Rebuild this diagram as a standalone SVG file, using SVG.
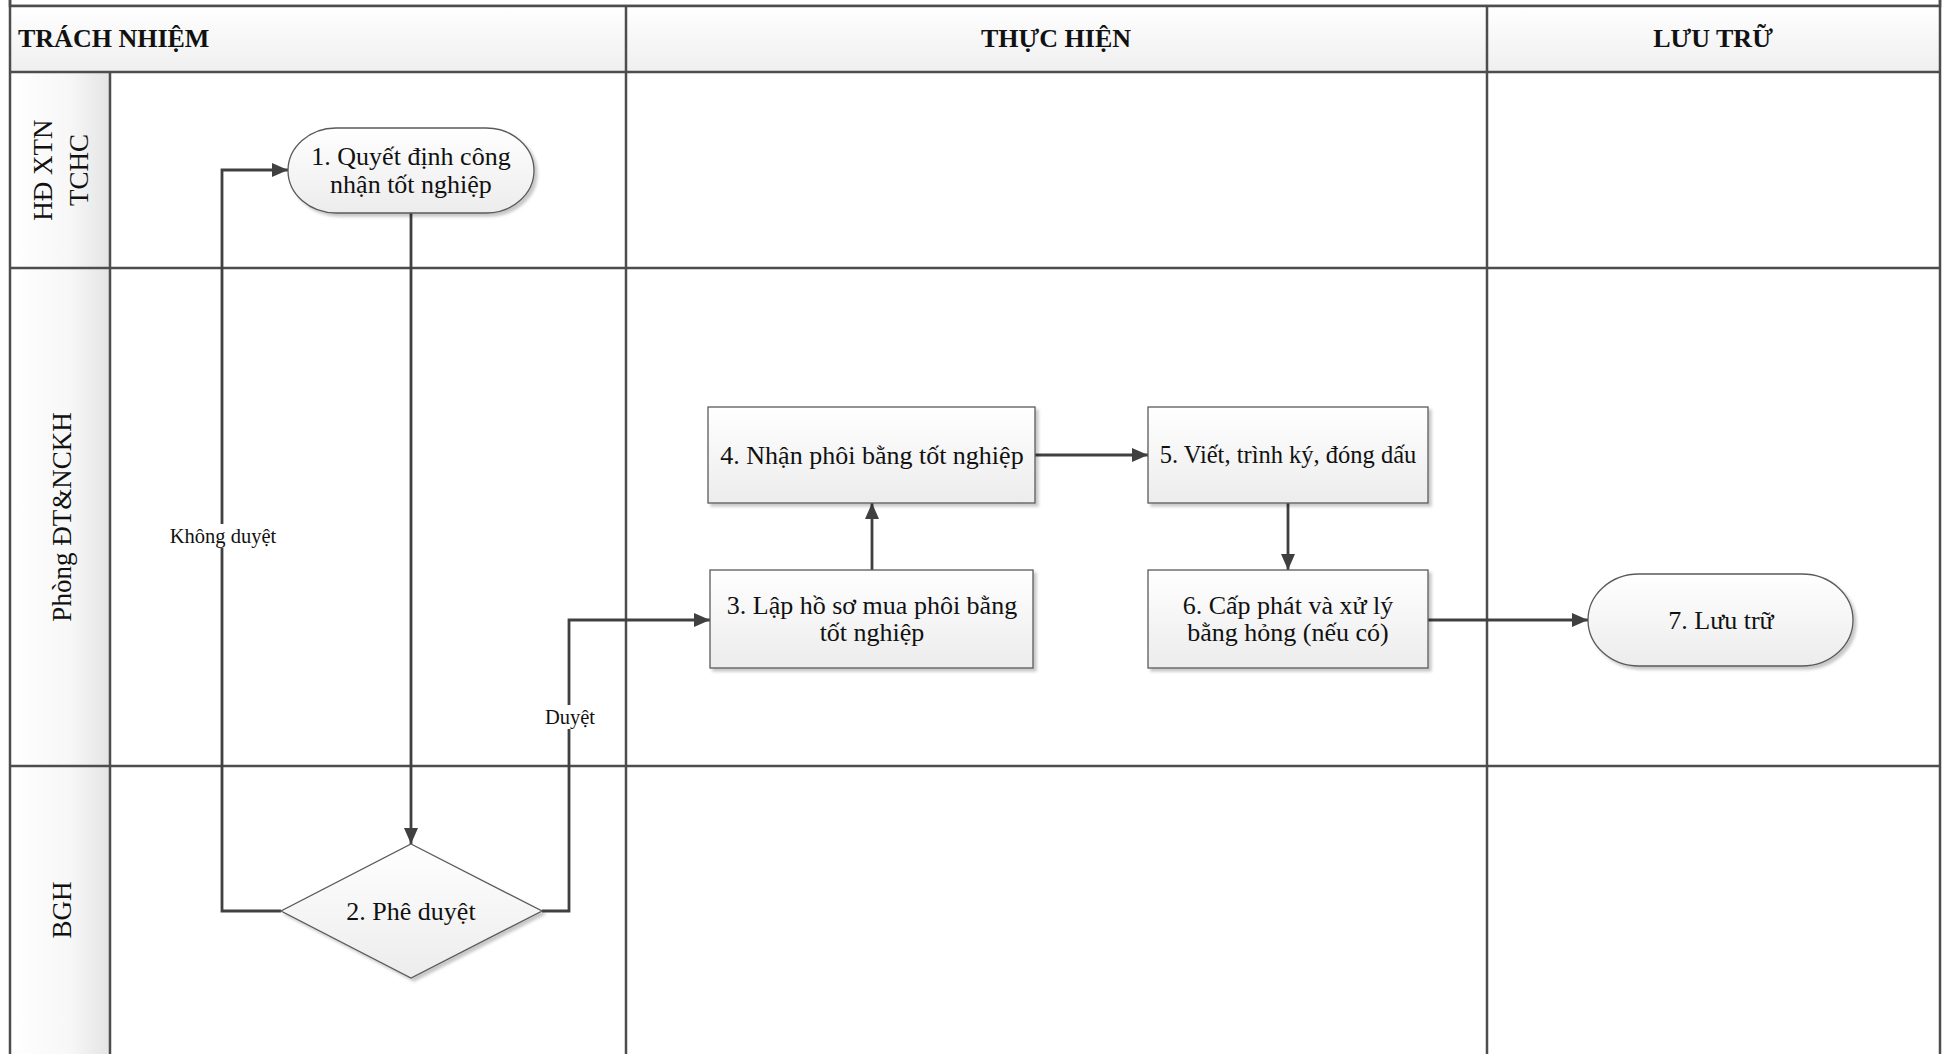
<svg xmlns="http://www.w3.org/2000/svg" width="1944" height="1054" viewBox="0 0 1944 1054">
<defs>
<linearGradient id="gNode" x1="0" y1="0" x2="0" y2="1"><stop offset="0" stop-color="#ffffff"/><stop offset="1" stop-color="#ececec"/></linearGradient>
<linearGradient id="gHead" x1="0" y1="0" x2="0" y2="1"><stop offset="0" stop-color="#ffffff"/><stop offset="1" stop-color="#efefef"/></linearGradient>
<linearGradient id="gLane" x1="0" y1="0" x2="1" y2="0"><stop offset="0" stop-color="#ffffff"/><stop offset="0.6" stop-color="#f7f7f7"/><stop offset="1" stop-color="#e4e4e4"/></linearGradient>
<filter id="sh" x="-10%" y="-10%" width="130%" height="130%"><feDropShadow dx="3" dy="3" stdDeviation="1.5" flood-color="#000" flood-opacity="0.22"/></filter>
<marker id="arr" viewBox="0 0 16 14" refX="16" refY="7" markerWidth="16" markerHeight="14" markerUnits="userSpaceOnUse" orient="auto"><path d="M0,0 L16,7 L0,14 Z" fill="#404040"/></marker>
</defs>
<style>
.grid{stroke:#4d4d4d;stroke-width:2.5;fill:none}
.node{fill:url(#gNode);stroke:#5a5a5a;stroke-width:1.3;filter:url(#sh)}
.t{font-family:"Liberation Serif","Times New Roman",serif;font-size:26px;fill:#111;text-anchor:middle}
.h{font-family:"Liberation Serif","Times New Roman",serif;font-size:26px;font-weight:bold;fill:#111}
.lane{font-family:"Liberation Serif","Times New Roman",serif;font-size:27px;fill:#111;text-anchor:middle}
.lbl{font-family:"Liberation Serif","Times New Roman",serif;font-size:20.5px;fill:#111;text-anchor:middle}
.c{stroke:#404040;stroke-width:2.8;fill:none}
</style>
<rect x="0" y="0" width="1944" height="1054" fill="#ffffff"/>
<g id="frame">
<rect x="10" y="-10" width="1930" height="16" fill="#f0f0f0" class="grid"/>
<rect x="10" y="6" width="1930" height="66" fill="url(#gHead)"/>
<rect x="10" y="72" width="100" height="990" fill="url(#gLane)"/>
<line class="grid" x1="10" y1="6" x2="1940" y2="6"/>
<line class="grid" x1="10" y1="72" x2="1940" y2="72"/>
<line class="grid" x1="10" y1="268" x2="1940" y2="268"/>
<line class="grid" x1="10" y1="766" x2="1940" y2="766"/>
<line class="grid" x1="10" y1="-10" x2="10" y2="1060"/>
<line class="grid" x1="110" y1="72" x2="110" y2="1060"/>
<line class="grid" x1="626" y1="6" x2="626" y2="1060"/>
<line class="grid" x1="1487" y1="6" x2="1487" y2="1060"/>
<line class="grid" x1="1940" y1="-10" x2="1940" y2="1060"/>
<text class="h" x="18" y="47">TRÁCH NHIỆM</text>
<text class="h" x="1056" y="47" text-anchor="middle">THỰC HIỆN</text>
<text class="h" x="1713" y="47" text-anchor="middle">LƯU TRỮ</text>
<text class="lane" transform="translate(52,170) rotate(-90)">HĐ XTN</text>
<text class="lane" transform="translate(88,170) rotate(-90)">TCHC</text>
<text class="lane" transform="translate(71,517) rotate(-90)">Phòng ĐT&amp;NCKH</text>
<text class="lane" transform="translate(71,910) rotate(-90)">BGH</text>
</g>
<g id="connectors">
<path class="c" d="M411,213 L411,844" marker-end="url(#arr)"/>
<path class="c" d="M281,911 L222,911 L222,170 L288,170" marker-end="url(#arr)"/>
<path class="c" d="M542,911 L569,911 L569,620 L710,620" marker-end="url(#arr)"/>
<path class="c" d="M872,570 L872,503" marker-end="url(#arr)"/>
<path class="c" d="M1035,455 L1148,455" marker-end="url(#arr)"/>
<path class="c" d="M1288,503 L1288,570" marker-end="url(#arr)"/>
<path class="c" d="M1428,620 L1588,620" marker-end="url(#arr)"/>
<rect x="166" y="524" width="114" height="24" fill="#ffffff"/>
<text class="lbl" x="223" y="543">Không duyệt</text>
<rect x="543" y="705" width="54" height="24" fill="#ffffff"/>
<text class="lbl" x="570" y="724">Duyệt</text>
</g>
<g id="n1">
<rect class="node" x="288" y="128" width="246" height="85" rx="48" ry="42.5"/>
<text class="t" x="411" y="165">1. Quyết định công</text>
<text class="t" x="411" y="193">nhận tốt nghiệp</text>
</g>
<g id="n2">
<polygon class="node" points="411,844 542,911 411,978 281,911"/>
<text class="t" x="411" y="920">2. Phê duyệt</text>
</g>
<g id="n3">
<rect class="node" x="710" y="570" width="323" height="98"/>
<text class="t" x="872" y="614">3. Lập hồ sơ mua phôi bằng</text>
<text class="t" x="872" y="641">tốt nghiệp</text>
</g>
<g id="n4">
<rect class="node" x="708" y="407" width="327" height="96"/>
<text class="t" x="872" y="464">4. Nhận phôi bằng tốt nghiệp</text>
</g>
<g id="n5">
<rect class="node" x="1148" y="407" width="280" height="96"/>
<text class="t" x="1288" y="463" style="font-size:24.5px">5. Viết, trình ký, đóng dấu</text>
</g>
<g id="n6">
<rect class="node" x="1148" y="570" width="280" height="98"/>
<text class="t" x="1288" y="614">6. Cấp phát và xử lý</text>
<text class="t" x="1288" y="641">bằng hỏng (nếu có)</text>
</g>
<g id="n7">
<rect class="node" x="1588" y="574" width="265" height="92" rx="51" ry="46"/>
<text class="t" x="1721" y="629">7. Lưu trữ</text>
</g>
</svg>
